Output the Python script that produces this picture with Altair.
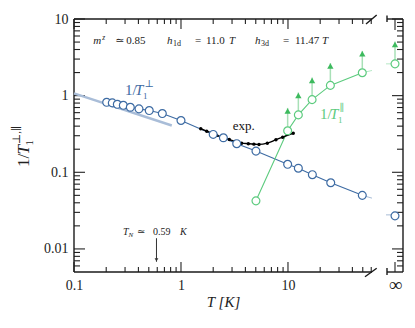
import altair as alt
import pandas as pd

SERIF = "Liberation Serif, DejaVu Serif, serif"
BLUE = "#3d6ba3"
LBLUE = "#a9bdd8"
GREEN = "#5ccb7e"
DGREEN = "#3dba5e"
LGREEN = "#a8e0b7"

W, H = 329, 253
MAIN_W = 298

# ---- data ----
perp_T = [0.202, 0.228, 0.254, 0.289, 0.336, 0.405, 0.505, 0.669, 1.0,
          2.0, 2.49, 3.32, 5.02, 9.93, 12.5, 16.9, 25.1, 49.5]
perp_rate = [0.818, 0.804, 0.771, 0.748, 0.705, 0.672, 0.639, 0.584, 0.474,
             0.312, 0.282, 0.236, 0.189, 0.127, 0.113, 0.093, 0.073, 0.050]
perp_ext_T = [49.5, 61]
perp_ext_rate = [0.050, 0.046]
perp_inf = [0.027]

fit_T = [0.1, 0.82]
fit_rate = [1.07, 0.408]

par_T = [5.02, 9.93, 12.5, 16.8, 24.9, 49.5]
par_rate = [0.0424, 0.348, 0.561, 0.887, 1.36, 1.99]
par_ext_T = [49.5, 61]
par_ext_rate = [1.99, 2.13]
par_arrow_T = [9.93, 12.5, 16.8, 24.9, 49.5]
par_arrow_low = [0.348, 0.561, 0.887, 1.36, 1.99]
par_arrow_top = [0.692, 1.10, 1.73, 2.66, 3.84]
par_inf = [2.60]
par_inf_top = [5.07]

exp_T = [1.53, 1.74, 1.94, 2.16, 2.45, 2.83, 3.20, 3.69, 4.26, 4.8, 5.36,
         6.41, 7.72, 8.92, 11.2]
exp_rate = [0.370, 0.344, 0.324, 0.303, 0.287, 0.268, 0.253, 0.240, 0.236,
            0.233, 0.231, 0.240, 0.266, 0.287, 0.324]

T_N = 0.59
T_N_arrow = [0.0138, 0.0068]

x_major = [0.1, 1, 10]
x_minor = [0.2, 0.3, 0.4, 0.5, 0.6, 0.7, 0.8, 0.9,
           2, 3, 4, 5, 6, 7, 8, 9, 20, 30, 40, 50, 60]
y_major = [0.01, 0.1, 1, 10]
y_minor = [0.006, 0.007, 0.008, 0.009,
           0.02, 0.03, 0.04, 0.05, 0.06, 0.07, 0.08, 0.09,
           0.2, 0.3, 0.4, 0.5, 0.6, 0.7, 0.8, 0.9,
           2, 3, 4, 5, 6, 7, 8, 9]
INF = "∞"

# ---- scales / axes ----
XS = alt.Scale(type="log", domain=[0.1, 61], range=[0, MAIN_W], nice=False)
YS = alt.Scale(type="log", domain=[0.005, 10], nice=False)
IS = alt.Scale(type="point", domain=[INF], range=[313, W])

XAXIS = alt.Axis(values=x_major, format="~g", domain=False, ticks=False, grid=False,
                 labelFlush=False, labelFont=SERIF, labelFontSize=14, labelColor="#222",
                 labelPadding=6, title="T [K]", titleFont=SERIF, titleFontSize=15,
                 titleFontStyle="italic", titleFontWeight="normal", titleColor="#222",
                 titlePadding=2, orient="bottom")
YAXIS = alt.Axis(values=y_major, format="~g", domain=False, ticks=False, grid=False,
                 labelFont=SERIF, labelFontSize=14, labelColor="#222", labelPadding=6,
                 title=None)
IAXIS = alt.Axis(domain=False, ticks=False, grid=False, labelFont=SERIF,
                 labelFontSize=19, labelColor="#222", labelPadding=3, title=None,
                 orient="bottom", labelAngle=0)


def X(f):
    return alt.X(f, type="quantitative", scale=XS, axis=XAXIS)


def Y(f):
    return alt.Y(f, type="quantitative", scale=YS, axis=YAXIS)


def Y2(f):
    return alt.Y2(f)


def XI(f):
    return alt.X(f, type="nominal", scale=IS, axis=IAXIS)


one = pd.DataFrame({"a": [0]})

perp = pd.DataFrame({"T": perp_T, "r": perp_rate})
perp_ext = pd.DataFrame({"T": perp_ext_T, "r": perp_ext_rate})
fit = pd.DataFrame({"T": fit_T, "r": fit_rate})
par = pd.DataFrame({"T": par_T, "r": par_rate})
par_ext = pd.DataFrame({"T": par_ext_T, "r": par_ext_rate})
arrows = pd.DataFrame({"T": par_arrow_T, "lo": par_arrow_low, "hi": par_arrow_top})
expd = pd.DataFrame({"T": exp_T, "r": exp_rate})
tn = pd.DataFrame({"T": [T_N], "lo": [T_N_arrow[1]], "hi": [T_N_arrow[0]]})
xmaj = pd.DataFrame({"T": x_major})
xmin = pd.DataFrame({"T": x_minor})
ymaj = pd.DataFrame({"r": y_major})
ymin = pd.DataFrame({"r": y_minor})

main = []
# ticks and frame
for d, ln in ((xmaj, 10), (xmin, 5)):
    main.append(alt.Chart(d).mark_rule(color="#222", strokeWidth=1.1).encode(
        x=X("T"), y=alt.value(H), y2=alt.value(H - ln)))
    main.append(alt.Chart(d).mark_rule(color="#222", strokeWidth=1.1).encode(
        x=X("T"), y=alt.value(0), y2=alt.value(ln)))
for d, ln in ((ymaj, 11), (ymin, 6)):
    main.append(alt.Chart(d).mark_rule(color="#222", strokeWidth=1.1).encode(
        y=Y("r"), x=alt.value(0), x2=alt.value(ln)))
    main.append(alt.Chart(d).mark_rule(color="#222", strokeWidth=1.1).encode(
        y=Y("r"), x=alt.value(W), x2=alt.value(W - ln)))
frame = [
    (0, MAIN_W, 0, 0), (0, MAIN_W, H, H), (0, 0, 0, H),
    (313, W, 0, 0), (313, W, H, H), (W, W, 0, H),
    (313, 313, -3.5, 3), (313, 313, H - 4, H + 3),
    (292, 302.7, 5, -4), (291, 302.7, H + 4.7, H - 3.7),
]
for x1, x2, y1, y2 in frame:
    main.append(alt.Chart(one).mark_rule(color="#1a1a1a", strokeWidth=1.4).encode(
        x=alt.value(x1), x2=alt.value(x2), y=alt.value(y1), y2=alt.value(y2)))

# data
main.append(alt.Chart(fit).mark_line(color=LBLUE, strokeWidth=2.5).encode(x=X("T"), y=Y("r")))
main.append(alt.Chart(perp).mark_line(color=BLUE, strokeWidth=1.1).encode(x=X("T"), y=Y("r")))
main.append(alt.Chart(perp_ext).mark_line(color=BLUE, strokeWidth=1, opacity=0.45).encode(x=X("T"), y=Y("r")))
main.append(alt.Chart(par).mark_line(color=GREEN, strokeWidth=1.1).encode(x=X("T"), y=Y("r")))
main.append(alt.Chart(par_ext).mark_line(color=GREEN, strokeWidth=1, opacity=0.45).encode(x=X("T"), y=Y("r")))
main.append(alt.Chart(arrows).mark_rule(color=LGREEN, strokeWidth=1.5).encode(
    x=X("T"), y=Y("lo"), y2=Y2("hi")))
main.append(alt.Chart(arrows).mark_point(shape="triangle-up", filled=True, opacity=1,
                                         color=DGREEN, size=40, yOffset=3).encode(
    x=X("T"), y=Y("hi")))
main.append(alt.Chart(expd).mark_line(color="black", strokeWidth=1.4, interpolate="monotone").encode(
    x=X("T"), y=Y("r")))
main.append(alt.Chart(expd).mark_circle(color="black", size=12, opacity=1).encode(x=X("T"), y=Y("r")))
main.append(alt.Chart(perp).mark_point(shape="circle", filled=False, fill="white", fillOpacity=1,
                                       stroke=BLUE, strokeWidth=1.2, size=62, opacity=1).encode(
    x=X("T"), y=Y("r")))
main.append(alt.Chart(par).mark_point(shape="circle", filled=False, fill="white", fillOpacity=1,
                                      stroke=GREEN, strokeWidth=1.2, size=62, opacity=1).encode(
    x=X("T"), y=Y("r")))
# T_N arrow
main.append(alt.Chart(tn).mark_rule(color="#333", strokeWidth=1).encode(
    x=X("T"), y=Y("hi"), y2=Y2("lo")))
main.append(alt.Chart(tn).mark_point(shape="triangle-down", filled=True, color="#333",
                                     size=14, opacity=1, yOffset=-2).encode(x=X("T"), y=Y("lo")))


def rich(xv, yv, pieces, color):
    d = pd.DataFrame({"T": [xv], "r": [yv]})
    out = []
    for txt, dx, dy, size, style in pieces:
        out.append(alt.Chart(d).mark_text(
            text=txt, dx=dx, dy=dy, fontSize=size, fontStyle=style, font=SERIF,
            color=color, align="left", baseline="alphabetic").encode(x=X("T"), y=Y("r")))
    return out


ann = "#222"
main += rich(0.151, 4.73, [("m", 0, 0, 11, "italic"), ("z", 9, -4, 7.5, "italic"),
                           ("≃", 22, 0, 11, "normal"), ("0.85", 33, 0, 11, "normal")], ann)
main += rich(0.74, 4.73, [("h", 0, 0, 11, "italic"), ("1d", 6, 2.5, 8, "normal"),
                          ("=", 28, 0, 11, "normal"), ("11.0", 39, 0, 11, "normal"),
                          ("T", 62, 0, 11, "italic")], ann)
main += rich(4.92, 4.73, [("h", 0, 0, 11, "italic"), ("3d", 6, 2.5, 8, "normal"),
                          ("=", 28, 0, 11, "normal"), ("11.47", 40, 0, 11, "normal"),
                          ("T", 67, 0, 11, "italic")], ann)
main += rich(0.300, 1.03, [("1/", 0, 0, 15, "normal"), ("T", 10, 0, 15, "italic"),
                           ("1", 18, 4, 9, "normal"), ("⊥", 19.5, -8, 10, "normal")], BLUE)
main += rich(19.9, 0.503, [("1/", 0, 0, 15, "normal"), ("T", 10, 0, 15, "italic"),
                           ("1", 18, 4, 9, "normal"), ("∥", 19.5, -8, 10, "normal")], GREEN)
main += rich(3.04, 0.351, [("exp.", 0, 0, 13, "normal")], "#111")
main += rich(0.287, 0.0152, [("T", 0, 0, 10, "italic"), ("N", 5.5, 2, 7, "italic"),
                             ("≃", 14, 0, 10, "normal"), ("0.59", 30, 0, 10, "normal"),
                             ("K", 57, 0, 10, "italic")], ann)

# rotated y title
for txt, dx, dy, size, style in [("1/", 0, 0, 17, "normal"), ("T", 12.5, 0, 17, "italic"),
                                 ("1", 21.5, 4, 11, "normal"), ("⊥,∥", 23, -9, 11, "normal")]:
    main.append(alt.Chart(one).mark_text(
        text=txt, dx=dx, dy=dy, fontSize=size, fontStyle=style, font=SERIF, color="#222",
        align="left", baseline="alphabetic", angle=270).encode(
        x=alt.value(-45), y=alt.value(148)))

main_group = alt.layer(*main)

# infinity panel
inf = []
ik = pd.DataFrame({"k": [INF]})
inf.append(alt.Chart(ik).mark_rule(color="#222", strokeWidth=1.1).encode(
    x=XI("k"), y=alt.value(H), y2=alt.value(H - 10)))
inf.append(alt.Chart(ik).mark_rule(color="#222", strokeWidth=1.1).encode(
    x=XI("k"), y=alt.value(0), y2=alt.value(11)))
pinf = pd.DataFrame({"k": [INF], "r": perp_inf})
ginf = pd.DataFrame({"k": [INF], "r": par_inf, "hi": par_inf_top})
inf.append(alt.Chart(pinf).mark_tick(color=BLUE, opacity=0.45, size=6, thickness=1,
                                     orient="horizontal", xOffset=-6, yOffset=-1).encode(x=XI("k"), y=Y("r")))
inf.append(alt.Chart(ginf).mark_tick(color=GREEN, opacity=0.45, size=6, thickness=1,
                                     orient="horizontal", xOffset=-6).encode(x=XI("k"), y=Y("r")))
inf.append(alt.Chart(ginf).mark_rule(color=LGREEN, strokeWidth=1.5).encode(
    x=XI("k"), y=Y("r"), y2=Y2("hi")))
inf.append(alt.Chart(ginf).mark_point(shape="triangle-up", filled=True, opacity=1,
                                      color=DGREEN, size=40, yOffset=3).encode(x=XI("k"), y=Y("hi")))
inf.append(alt.Chart(pinf).mark_point(shape="circle", filled=False, fill="white", fillOpacity=1,
                                      stroke=BLUE, strokeWidth=1.2, size=62, opacity=1).encode(
    x=XI("k"), y=Y("r")))
inf.append(alt.Chart(ginf).mark_point(shape="circle", filled=False, fill="white", fillOpacity=1,
                                      stroke=GREEN, strokeWidth=1.2, size=62, opacity=1).encode(
    x=XI("k"), y=Y("r")))
inf_group = alt.layer(*inf)

chart = alt.layer(main_group, inf_group).resolve_scale(x="independent").properties(
    width=W, height=H,
    autosize=alt.AutoSizeParams(type="none"),
    padding={"left": 66, "top": 11, "right": 4, "bottom": 48},
).configure_view(strokeWidth=0)

chart.save("out.html", embed_options={"renderer": "svg", "actions": False})
